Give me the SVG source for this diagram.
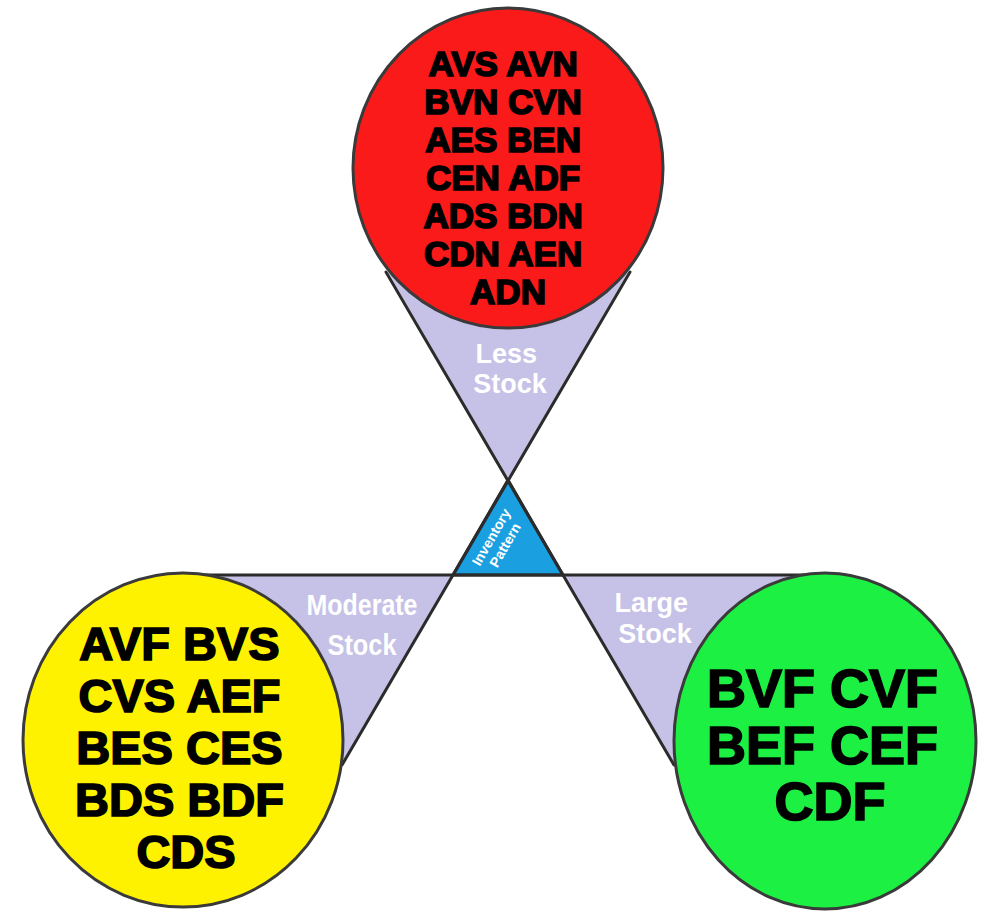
<svg xmlns="http://www.w3.org/2000/svg" width="984" height="913" viewBox="0 0 984 913">
  <style>
    .wedge { fill: #c6c1e6; stroke: none; }
    .edge { stroke: #2b2b2b; stroke-width: 3; fill: none; stroke-linecap: round; }
    .circ { stroke: #3a3a3a; stroke-width: 3; }
    .codes { font-family: "Liberation Sans", Arial, sans-serif; font-weight: bold; fill: #000; stroke: #000; stroke-width: 1.7; text-anchor: middle; }
    .lbl { font-family: "Liberation Sans", Arial, sans-serif; font-weight: bold; fill: #ffffff; text-anchor: middle; }
  </style>
  <rect width="984" height="913" fill="#ffffff"/>

  <g id="wedges">
    <polygon class="wedge" points="508,480 388,272 628,272"/>
    <polygon class="wedge" points="453,575 205,575 342,765"/>
    <polygon class="wedge" points="563,575 845,575 674,765"/>
  </g>

  <g id="center">
    <polygon points="508,480 453,575 563,575" fill="#1a9fe0" stroke="#2b2b2b" stroke-width="3" stroke-linejoin="round"/>
    <g transform="translate(498,541) rotate(-60)">
      <text class="lbl" x="0" y="-3" font-size="14">Inventory</text>
      <text class="lbl" x="0" y="13" font-size="14">Pattern</text>
    </g>
  </g>

  <g id="connectors">
    <line class="edge" x1="386" y1="272" x2="674" y2="765"/>
    <line class="edge" x1="630" y1="272" x2="342" y2="765"/>
    <line class="edge" x1="205" y1="575" x2="845" y2="575"/>
  </g>

  <g id="less-stock">
    <ellipse class="circ" cx="508" cy="168" rx="155" ry="160" fill="#fb1a1a"/>
    <text class="codes" font-size="35">
      <tspan x="508" y="76">AVS AVN</tspan>
      <tspan x="508" y="114">BVN CVN</tspan>
      <tspan x="508" y="152">AES BEN</tspan>
      <tspan x="508" y="190">CEN ADF</tspan>
      <tspan x="508" y="228">ADS BDN</tspan>
      <tspan x="508" y="266">CDN AEN</tspan>
      <tspan x="508" y="304">ADN</tspan>
    </text>
    <text class="lbl" font-size="27">
      <tspan x="510" y="363">Less</tspan>
      <tspan x="510" y="393">Stock</tspan>
    </text>
  </g>

  <g id="moderate-stock">
    <ellipse class="circ" cx="183" cy="740" rx="160" ry="167" fill="#fff200"/>
    <text class="codes" font-size="47">
      <tspan x="186" y="660">AVF BVS</tspan>
      <tspan x="186" y="712">CVS AEF</tspan>
      <tspan x="186" y="764">BES CES</tspan>
      <tspan x="186" y="816">BDS BDF</tspan>
      <tspan x="186" y="868">CDS</tspan>
    </text>
    <text class="lbl" font-size="30" x="362" y="615" textLength="111" lengthAdjust="spacingAndGlyphs">Moderate</text>
    <text class="lbl" font-size="30" x="362" y="655" textLength="69" lengthAdjust="spacingAndGlyphs">Stock</text>
  </g>

  <g id="large-stock">
    <ellipse class="circ" cx="825" cy="741" rx="151" ry="168" fill="#1cf043"/>
    <text class="codes" font-size="54">
      <tspan x="830" y="707">BVF CVF</tspan>
      <tspan x="830" y="764">BEF CEF</tspan>
      <tspan x="830" y="820">CDF</tspan>
    </text>
    <text class="lbl" font-size="27">
      <tspan x="655" y="612">Large</tspan>
      <tspan x="655" y="643">Stock</tspan>
    </text>
  </g>
</svg>
